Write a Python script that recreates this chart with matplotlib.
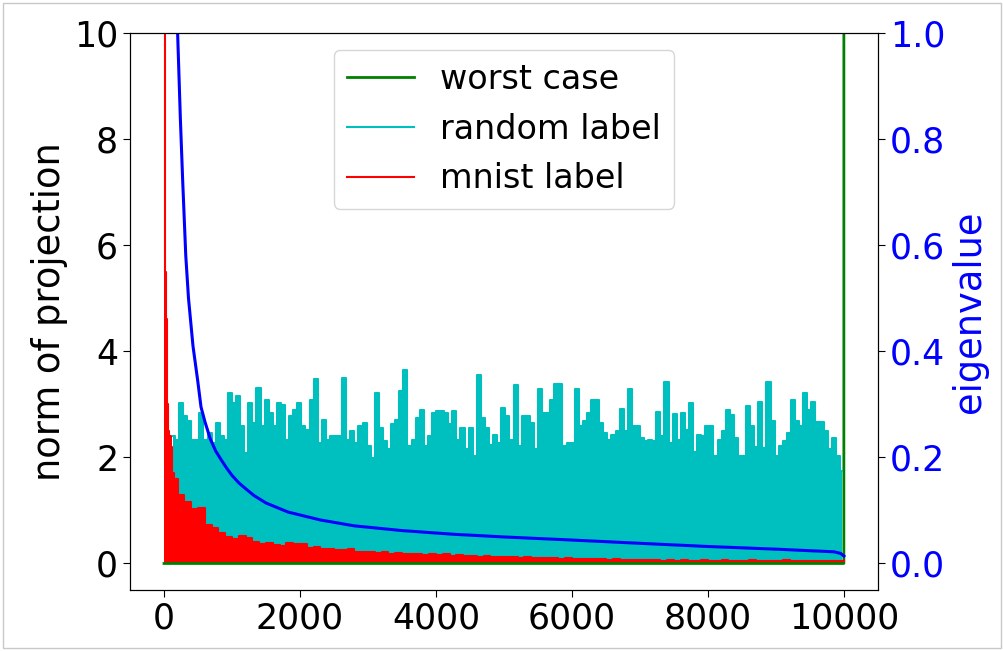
import numpy as np
import matplotlib
matplotlib.use('Agg')
import matplotlib.pyplot as plt
from matplotlib.patches import Rectangle

### Data
# random label: max of the noisy series in bins of 60 indices, starting at 100
random_label = [
    2.40, 2.33, 3.02, 2.78, 2.68, 2.33, 2.33, 2.84, 2.33, 2.46, 2.27,
    2.65, 2.40, 2.33, 3.21, 3.02, 3.15, 2.59, 2.08, 3.02, 2.65,
    3.31, 2.59, 3.09, 2.84, 2.59, 3.02, 2.99, 2.33, 2.78, 2.90,
    3.02, 2.59, 2.52, 3.09, 3.47, 2.27, 2.71, 2.33, 2.40, 2.40,
    2.40, 3.50, 2.33, 2.49, 2.27, 2.59, 2.65, 2.21, 1.99, 3.21,
    2.56, 2.30, 2.15, 2.62, 2.71, 3.25, 3.65, 2.21, 2.33, 2.74,
    2.90, 2.21, 2.40, 2.84, 2.87, 2.87, 2.84, 2.62, 2.87, 2.33,
    2.56, 2.15, 2.56, 2.02, 3.56, 2.74, 2.56, 2.24, 2.43, 2.27,
    2.93, 2.78, 2.33, 3.37, 2.21, 2.78, 2.78, 2.65, 2.15, 3.29,
    2.84, 2.84, 3.09, 3.39, 3.39, 2.21, 2.27, 2.27, 3.28, 2.59,
    2.68, 2.84, 3.09, 3.09, 2.65, 2.46, 2.33, 2.43, 2.49, 2.91,
    2.49, 3.29, 2.59, 2.59, 2.37, 2.30, 2.33, 2.30, 2.85, 2.41,
    3.42, 2.27, 2.81, 2.33, 2.84, 2.52, 3.02, 2.11, 2.43, 2.40,
    2.59, 2.59, 2.02, 2.33, 2.49, 2.90, 2.79, 2.37, 2.02, 2.02,
    2.96, 2.59, 2.20, 3.04, 2.18, 3.42, 2.68, 2.02, 2.21, 2.30,
    2.46, 3.09, 2.68, 2.59, 3.21, 2.90, 3.04, 2.66, 2.66, 2.49,
    2.15, 2.37, 2.02, 1.75,
]

# mnist label: fine steps at the start, then bins of 100 from index 200
mnist_head_idx = [0, 10, 20, 30, 40, 50, 60, 80, 100, 120, 150]
mnist_head = [12.0, 10.5, 5.5, 4.6, 3.7, 3.0, 2.5, 2.4, 2.2, 1.7, 1.6]
mnist_tail = [
    1.30, 1.15, 1.02, 1.05, 0.72, 0.66, 0.58, 0.50, 0.47, 0.52,
    0.48, 0.40, 0.36, 0.39, 0.35, 0.33, 0.38, 0.36, 0.37, 0.30,
    0.31, 0.27, 0.28, 0.26, 0.25, 0.27, 0.22, 0.21, 0.22, 0.20,
    0.21, 0.18, 0.19, 0.17, 0.18, 0.17, 0.16, 0.17, 0.16, 0.17,
    0.15, 0.16, 0.14, 0.15, 0.13, 0.14, 0.13, 0.12, 0.13, 0.12,
    0.11, 0.12, 0.11, 0.10, 0.11, 0.10, 0.09, 0.10, 0.09, 0.08,
    0.09, 0.08, 0.08, 0.07, 0.08, 0.07, 0.07, 0.06, 0.07, 0.06,
    0.06, 0.05, 0.06, 0.05, 0.06, 0.05, 0.05, 0.06, 0.05, 0.05,
    0.06, 0.05, 0.05, 0.05, 0.06, 0.05, 0.05, 0.05, 0.05, 0.06,
    0.05, 0.05, 0.05, 0.05, 0.05, 0.05, 0.05, 0.05,
]

# worst case: zero everywhere, huge on the last index
worst_idx = [0, 9998, 9999]
worst_case = [0.0, 0.0, 60.0]

# eigenvalues (right axis)
eig_idx = [100, 150, 200, 240, 275, 320, 360, 426, 495, 544, 600, 680, 760,
           838, 920, 1000, 1100, 1200, 1324, 1500, 1823, 2300, 2794, 3500,
           4265, 5000, 6030, 7000, 8000, 9000, 9853, 9950, 9999]
eigenvalue = [2.0, 1.35, 1.0, 0.84, 0.72, 0.58, 0.50, 0.41, 0.345, 0.295,
              0.268, 0.235, 0.212, 0.196, 0.180, 0.166, 0.152, 0.141, 0.128,
              0.114, 0.097, 0.082, 0.071, 0.062, 0.055, 0.050, 0.044, 0.038,
              0.032, 0.027, 0.022, 0.019, 0.014]

### Draw
plt.rcParams['font.size'] = 25

fig = plt.figure(figsize=(10.04, 6.51), dpi=100)
ax = fig.add_axes([0.1295, 0.0937, 0.745, 0.8556])

ax.plot(worst_idx, worst_case, color='g', lw=2, label='worst case')

rand_x = 130 + 60 * np.arange(len(random_label))
ax.fill_between(rand_x, 0, random_label, step='mid', color='c', lw=0)
ax.plot(rand_x, random_label, drawstyle='steps-mid', color='c', lw=1.5,
        label='random label')

mnist_x = np.concatenate([mnist_head_idx, 200 + 100 * np.arange(len(mnist_tail)), [9999]])
mnist_y = np.concatenate([mnist_head, mnist_tail, [mnist_tail[-1]]])
ax.fill_between(mnist_x, 0, mnist_y, step='post', color='r', lw=0)
ax.plot(mnist_x, mnist_y, drawstyle='steps-post', color='r', lw=1.5,
        label='mnist label')

ax.set_xlim(-500, 10500)
ax.set_ylim(-0.5, 10)
ax.set_xticks(range(0, 10001, 2000))
ax.set_yticks(range(0, 11, 2))
ax.set_ylabel('norm of projection', fontsize=26.5)
ax.tick_params(length=5)
ax.legend(loc='upper center', fontsize=24)

ax2 = ax.twinx()
ax2.plot(eig_idx, eigenvalue, color='b', lw=2.2)
ax2.set_ylim(-0.05, 1.0)
ax2.set_yticks(np.arange(0, 1.01, 0.2))
ax2.set_yticklabels(['%.1f' % v for v in np.arange(0, 1.01, 0.2)])
ax2.set_ylabel('eigenvalue', color='b', fontsize=26.5)
ax2.tick_params(axis='y', labelcolor='b', length=5)

# screenshot frame
fig.patches.append(Rectangle((0.003, 0.005), 0.994, 0.99, transform=fig.transFigure,
                             fill=False, edgecolor='#c8c8c8', lw=1))

fig.savefig('out.png', dpi=100)
